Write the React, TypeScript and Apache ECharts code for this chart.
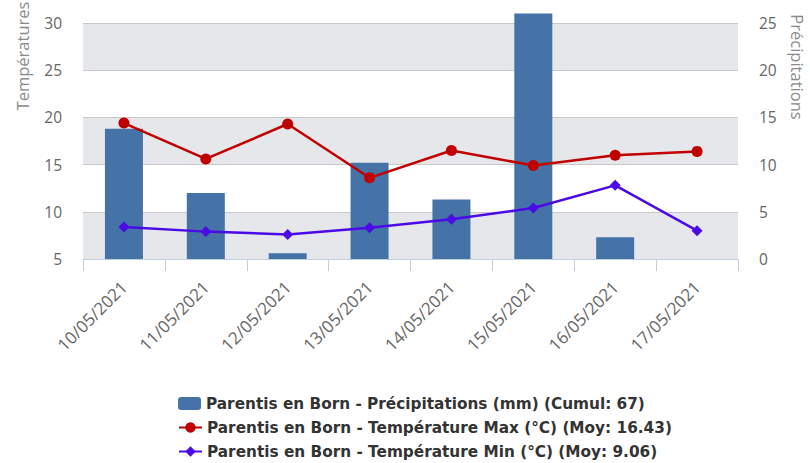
import React, { useEffect, useRef } from "react";
import * as echarts from "echarts";

const categories = [
  "10/05/2021",
  "11/05/2021",
  "12/05/2021",
  "13/05/2021",
  "14/05/2021",
  "15/05/2021",
  "16/05/2021",
  "17/05/2021",
];
const precipitations = [13.8, 7.0, 0.6, 10.2, 6.3, 26.0, 2.3, 0];
const tempMax = [19.4, 15.6, 19.3, 13.6, 16.5, 14.9, 16.0, 16.4];
const tempMin = [8.4, 7.9, 7.6, 8.3, 9.2, 10.4, 12.8, 8.0];

const seriesNames = [
  "Parentis en Born - Précipitations (mm) (Cumul: 67)",
  "Parentis en Born - Température Max (°C) (Moy: 16.43)",
  "Parentis en Born - Température Min (°C) (Moy: 9.06)",
];
const leftTitle = "Températures";
const rightTitle = "Précipitations";

export default function App() {
  const ref = useRef<HTMLDivElement>(null);
  useEffect(() => {
    if (!ref.current) return;
    const chart = echarts.init(ref.current, undefined, { renderer: "svg" });
    const axisFont = "'Open Sans', sans-serif";
    const legendRowTops = [391, 415, 439];
    const legends = seriesNames.map((name, i) => ({
      orient: "horizontal",
      left: 173,
      top: legendRowTops[i],
      itemWidth: 23,
      itemHeight: 13,
      textStyle: {
        fontFamily: "'DejaVu Sans', sans-serif",
        fontWeight: "bold",
        fontSize: 15.3,
        color: "#333",
      },
      data: [name],
    }));
    chart.setOption({
      animation: false,
      grid: { left: 83, right: 72, top: 23, bottom: 204, containLabel: false },
      graphic: [
        {
          type: "text",
          x: 22,
          y: 56,
          rotation: Math.PI / 2,
          style: {
            text: leftTitle,
            fill: "#8a8a8a",
            font: "16.5px 'Open Sans', sans-serif",
            align: "center",
            verticalAlign: "middle",
          },
        },
        {
          type: "text",
          x: 797,
          y: 67,
          rotation: -Math.PI / 2,
          style: {
            text: rightTitle,
            fill: "#8a8a8a",
            font: "16.5px 'Open Sans', sans-serif",
            align: "center",
            verticalAlign: "middle",
          },
        },
      ],
      legend: legends,
      xAxis: {
        type: "category",
        data: categories,
        axisLine: { lineStyle: { color: "#C0D0E0", width: 1 } },
        axisTick: { show: true, length: 12, lineStyle: { color: "#C0D0E0" }, alignWithLabel: false },
        axisLabel: {
          rotate: 45,
          margin: 25,
          color: "#666",
          fontSize: 17,
          fontFamily: axisFont,
          interval: 0,
        },
      },
      yAxis: [
        {
          type: "value",
          min: 5,
          max: 30,
          interval: 5,
          axisLine: { show: false },
          axisTick: { show: false },
          axisLabel: { color: "#666", fontSize: 15.5, fontFamily: axisFont, margin: 21 },
          splitLine: { show: true, lineStyle: { color: "#C8C8C8", width: 1 } },
          splitArea: { show: true, areaStyle: { color: ["#E6E7EB", "#FFFFFF"] } },
        },
        {
          type: "value",
          min: 0,
          max: 25,
          interval: 5,
          axisLine: { show: false },
          axisTick: { show: false },
          axisLabel: { color: "#666", fontSize: 15.5, fontFamily: axisFont, margin: 21 },
          splitLine: { show: false },
        },
      ],
      series: [
        {
          name: seriesNames[0],
          type: "bar",
          yAxisIndex: 1,
          data: precipitations,
          barWidth: 38,
          clip: false,
          itemStyle: { color: "#4572A7" },
        },
        {
          name: seriesNames[1],
          type: "line",
          yAxisIndex: 0,
          data: tempMax,
          symbol: "circle",
          symbolSize: 11,
          lineStyle: { color: "#C00000", width: 2.5 },
          itemStyle: { color: "#C00000" },
        },
        {
          name: seriesNames[2],
          type: "line",
          yAxisIndex: 0,
          data: tempMin,
          symbol: "diamond",
          symbolSize: 11,
          lineStyle: { color: "#4B0AE6", width: 2.5 },
          itemStyle: { color: "#4B0AE6" },
        },
      ],
    });
    return () => chart.dispose();
  }, []);
  return (
    <div
      ref={ref}
      style={{ position: "absolute", left: 0, top: 0, width: 810, height: 463, background: "#fff" }}
    />
  );
}
